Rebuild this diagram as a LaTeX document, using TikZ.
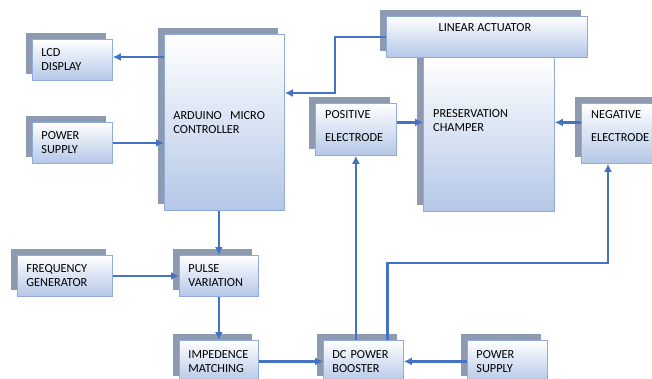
\documentclass[tikz,border=0pt]{standalone}
\usepackage{fontspec}
\setmainfont{Carlito}
\usetikzlibrary{shadows,arrows.meta}

\definecolor{boxline}{RGB}{143,170,220}
\definecolor{boxblue}{RGB}{180,199,231}
\definecolor{shadowgray}{RGB}{142,154,175}
\definecolor{wireblue}{RGB}{68,114,196}
\newcommand{\blockfont}{\fontsize{12.3}{14}\selectfont}

\tikzset{
    box/.style 2 args={draw=boxline, line width=0.8pt, top color=white, bottom color=boxblue,
        general shadow={fill=shadowgray, shadow xshift=-6pt, shadow yshift=6pt},
        anchor=north west, inner xsep=9pt, inner ysep=0pt, align=left, font=\blockfont,
        minimum width=#1pt, minimum height=#2pt, text width=#1pt-18pt},
    lbl/.style={font=\blockfont, align=left, inner sep=0pt},
    wire/.style={draw=wireblue, line width=2.6pt, -{Latex[length=8pt,width=8pt]}}
}

\begin{document}
\begin{tikzpicture}[x=1pt, y=-1pt]
    \useasboundingbox (0,0) rectangle (652,379);
    \node[box={80}{41}] (lcd) at (32,39) {LCD\\DISPLAY};
    \node[box={80}{41}] (pwrl) at (32,122) {POWER\\SUPPLY};
    \node[box={120}{176}] (arduino) at (164,34) {ARDUINO\ \ MICRO\\CONTROLLER};
    \node[box={131}{154}, label={[lbl, anchor=north west, xshift=10pt, yshift=-52pt]north west:PRESERVATION\\CHAMPER}] (champer) at (423,57) {};
    \node[box={201}{41}, label={[lbl, anchor=north, xshift=-2pt, yshift=-7pt]north:LINEAR ACTUATOR}] (actuator) at (386,16) {};
    \node[box={81}{52}, label={[lbl, anchor=north west, xshift=10pt, yshift=-7pt]north west:POSITIVE\\[9pt]ELECTRODE}] (pos) at (315,103) {};
    \node[box={80}{60}, label={[lbl, anchor=north west, xshift=10pt, yshift=-7pt]north west:NEGATIVE\\[9pt]ELECTRODE}] (neg) at (581,103) {};
    \node[box={95}{41}] (freq) at (17,255) {FREQUENCY\\GENERATOR};
    \node[box={79}{41}] (pulse) at (179,255) {PULSE\\VARIATION};
    \node[box={79}{42}] (imp) at (179,340) {IMPEDENCE\\MATCHING};
    \node[box={80}{42}] (booster) at (323,340) {DC POWER\\BOOSTER};
    \node[box={80}{42}] (pwrr) at (467,340) {POWER\\SUPPLY};

    \coordinate (actbend) at (335,93);
    \coordinate (negbend) at (608,263);

    \draw[wire] (arduino.west |- 0,57) -- (lcd.east |- 0,57);
    \draw[wire] (pwrl.east) -- (pwrl.east -| arduino.west);
    \draw[wire] (actuator.west) -| (actbend) -- (actbend -| arduino.east);
    \draw[wire] (arduino.south -| pulse.north) -- (pulse.north);
    \draw[wire] (freq.east) -- (pulse.west);
    \draw[wire] (pulse.south) -- (imp.north);
    \draw[wire] (imp.east) -- (booster.west);
    \draw[wire] (pwrr.west) -- (booster.east);
    \draw[wire] ([yshift=7pt]pos.east) -- ([yshift=7pt]pos.east -| champer.west);
    \draw[wire] ([yshift=11pt]neg.west) -- ([yshift=11pt]neg.west -| champer.east);
    \draw[wire] (pos.south |- booster.north) -- (pos.south);
    \draw[wire] ([xshift=24pt]booster.north) |- (negbend) -- (negbend |- neg.south);
\end{tikzpicture}
\end{document}
